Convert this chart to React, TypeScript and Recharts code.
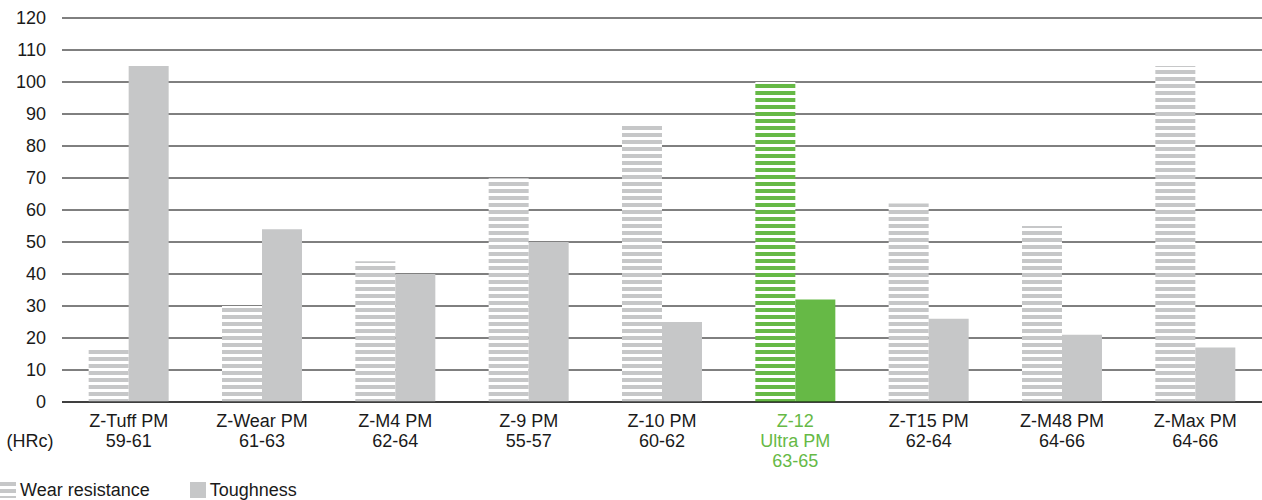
import { BarChart, Bar, XAxis, YAxis, CartesianGrid, Cell, Legend } from "recharts";

const steels = ["Z-Tuff PM", "Z-Wear PM", "Z-M4 PM", "Z-9 PM", "Z-10 PM", "Z-12 Ultra PM", "Z-T15 PM", "Z-M48 PM", "Z-Max PM"];
const tickLines = [
    ["Z-Tuff PM", "59-61"],
    ["Z-Wear PM", "61-63"],
    ["Z-M4 PM", "62-64"],
    ["Z-9 PM", "55-57"],
    ["Z-10 PM", "60-62"],
    ["Z-12", "Ultra PM", "63-65"],
    ["Z-T15 PM", "62-64"],
    ["Z-M48 PM", "64-66"],
    ["Z-Max PM", "64-66"],
];
const wearResistance = [17, 30, 44, 70, 87, 100, 62, 55, 105];
const toughness = [105, 54, 40, 50, 25, 32, 26, 21, 17];
const yTicks = [0, 10, 20, 30, 40, 50, 60, 70, 80, 90, 100, 110, 120];

const HIGHLIGHT = 5;
const GREEN = "#66b946";
const GREY = "#c6c7c8";
const FONT = "'Liberation Sans', Arial, sans-serif";

const data = steels.map((name, i) => ({
    name,
    wear: wearResistance[i],
    tough: toughness[i],
}));

function XTick(props: any) {
    const { x, y, payload, index } = props;
    const lines = tickLines[index] || [payload.value];
    const color = index === HIGHLIGHT ? GREEN : "#1a1a1a";
    return (
        <g>
            {lines.map((l: string, i: number) => (
                <text key={i} x={x} y={y + 17 + i * 20} textAnchor="middle" fill={color} fontSize={18} fontFamily={FONT}>
                    {l}
                </text>
            ))}
            {index === 0 && (
                <text x={30} y={y + 37} textAnchor="middle" fill="#1a1a1a" fontSize={18} fontFamily={FONT}>
                    (HRc)
                </text>
            )}
        </g>
    );
}

function LegendContent() {
    return (
        <div style={{ display: "flex", alignItems: "center", fontFamily: FONT, fontSize: 18, color: "#1a1a1a", lineHeight: "18px" }}>
            <svg width={16} height={16} style={{ marginRight: 4 }}>
                <rect width={16} height={16} fill="url(#stripeGrey)" />
            </svg>
            <span style={{ marginRight: 40 }}>Wear resistance</span>
            <svg width={16} height={16} style={{ marginRight: 4 }}>
                <rect width={16} height={16} fill={GREY} />
            </svg>
            <span>Toughness</span>
        </div>
    );
}

export default function App() {
    return (
        <div style={{ position: "absolute", left: 0, top: 0, background: "#fff" }}>
            <BarChart
                width={1262}
                height={500}
                data={data}
                margin={{ top: 18, right: 0, bottom: 0, left: 0 }}
                barCategoryGap="20%"
                barGap={0}
            >
                <defs>
                    <pattern id="stripeGrey" patternUnits="userSpaceOnUse" width={8} height={7}>
                        <rect width={8} height={7} fill="#fff" />
                        <rect width={8} height={4} fill={GREY} />
                    </pattern>
                    <pattern id="stripeGreen" patternUnits="userSpaceOnUse" width={8} height={7}>
                        <rect width={8} height={7} fill="#fff" />
                        <rect width={8} height={4} fill={GREEN} />
                    </pattern>
                </defs>
                <CartesianGrid vertical={false} stroke="#000" strokeWidth={1} />
                <XAxis
                    dataKey="name"
                    interval={0}
                    height={80}
                    tickLine={false}
                    axisLine={{ stroke: "#000", strokeWidth: 1 }}
                    tick={<XTick />}
                />
                <YAxis
                    domain={[0, 120]}
                    ticks={yTicks}
                    width={62}
                    axisLine={false}
                    tickLine={false}
                    tickSize={0}
                    tickMargin={16}
                    tick={{ fill: "#1a1a1a", fontSize: 18, fontFamily: FONT }}
                />
                <Legend
                    content={<LegendContent />}
                    wrapperStyle={{ position: "absolute", left: 0, top: 481, width: 400, height: 18 }}
                />
                <Bar dataKey="wear" name="Wear resistance" isAnimationActive={false}>
                    {data.map((_, i) => (
                        <Cell key={i} fill={i === HIGHLIGHT ? "url(#stripeGreen)" : "url(#stripeGrey)"} />
                    ))}
                </Bar>
                <Bar dataKey="tough" name="Toughness" isAnimationActive={false}>
                    {data.map((_, i) => (
                        <Cell key={i} fill={i === HIGHLIGHT ? GREEN : GREY} />
                    ))}
                </Bar>
            </BarChart>
        </div>
    );
}
